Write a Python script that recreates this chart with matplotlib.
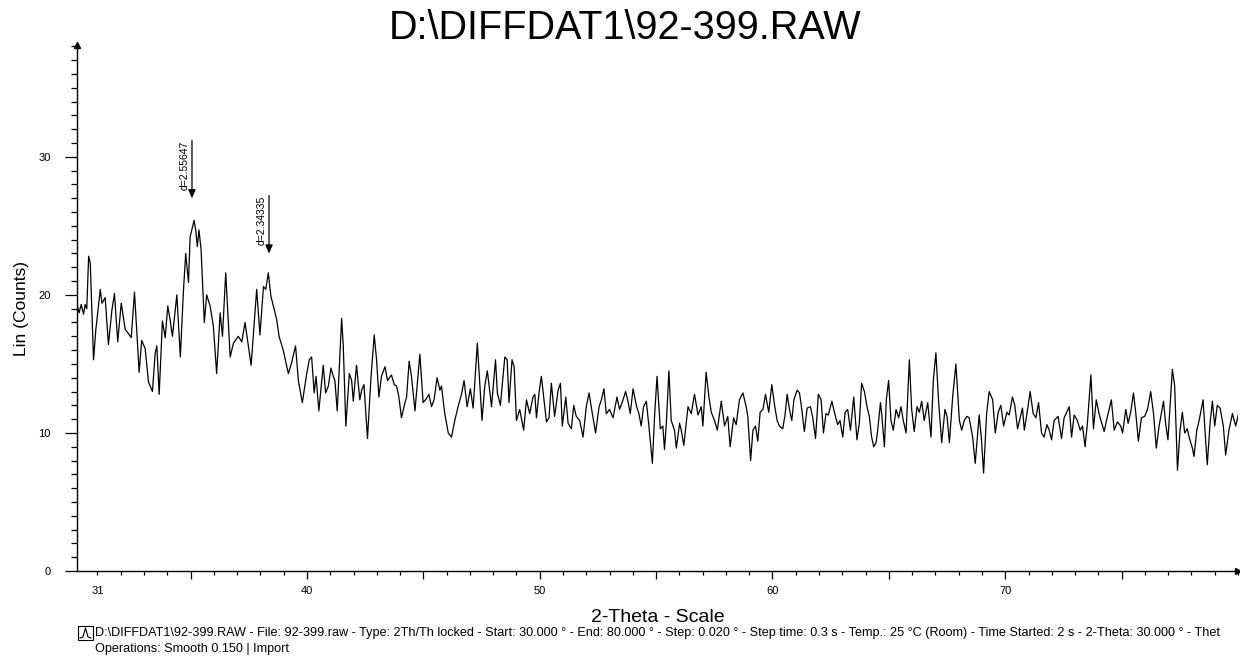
import matplotlib
matplotlib.use("Agg")
import matplotlib.pyplot as plt
from matplotlib.ticker import FixedLocator, MultipleLocator, NullFormatter
from matplotlib.patches import Rectangle
from matplotlib.lines import Line2D

plt.rcParams["font.family"] = ["Liberation Sans", "DejaVu Sans"]

title = r"D:\DIFFDAT1\92-399.RAW"
footer_1 = (r"D:\DIFFDAT1\92-399.RAW - File: 92-399.raw - Type: 2Th/Th locked - Start: 30.000 ° - "
            "End: 80.000 ° - Step: 0.020 ° - Step time: 0.3 s - Temp.: 25 °C (Room) - "
            "Time Started: 2 s - 2-Theta: 30.000 ° - Thet")
footer_2 = "Operations: Smooth 0.150 | Import"

# values (2-theta in degrees, intensity in counts)
two_theta = [
    30.12, 30.14, 30.21, 30.30, 30.40, 30.47, 30.54, 30.62, 30.69, 30.83,
    30.93, 31.12, 31.19, 31.33, 31.47, 31.62, 31.73, 31.87, 32.02, 32.19,
    32.33, 32.45, 32.59, 32.79, 32.90, 33.05, 33.19, 33.36, 33.48, 33.55,
    33.65, 33.79, 33.91, 34.02, 34.12, 34.22, 34.41, 34.56, 34.69, 34.79,
    34.91, 34.98, 35.15, 35.22, 35.29, 35.36, 35.45, 35.59, 35.69, 35.84,
    35.98, 36.12, 36.27, 36.37, 36.51, 36.70, 36.84, 37.05, 37.20, 37.34,
    37.60, 37.84, 37.98, 38.13, 38.23, 38.34, 38.45, 38.60, 38.70, 38.80,
    38.98, 39.20, 39.34, 39.51, 39.63, 39.80, 39.99, 40.10,
    40.20, 40.31, 40.39, 40.51, 40.70, 40.80, 40.92, 41.03, 41.13, 41.20,
    41.30, 41.49, 41.56, 41.67, 41.82, 41.92, 41.99, 42.13, 42.27, 42.35,
    42.45, 42.60, 42.75, 42.89, 42.99, 43.09, 43.20, 43.35, 43.46, 43.63,
    43.75, 43.85, 43.95, 44.06, 44.21, 44.28, 44.39, 44.49, 44.64, 44.85,
    44.99, 45.14, 45.24, 45.35, 45.46, 45.59, 45.71, 45.78, 45.92, 46.07,
    46.21, 46.35, 46.49, 46.64, 46.75, 46.88, 47.02, 47.14, 47.32, 47.52,
    47.64, 47.75, 47.93, 48.10, 48.18, 48.31, 48.50, 48.60, 48.68, 48.81,
    48.90, 49.00, 49.14, 49.31, 49.43, 49.57, 49.71, 49.79, 49.86, 49.97,
    50.07, 50.17, 50.29, 50.40, 50.50, 50.64, 50.79, 50.89, 50.97, 51.12,
    51.22, 51.36, 51.46, 51.57, 51.72, 51.86, 52.00, 52.12, 52.26, 52.40,
    52.55, 52.65, 52.76, 52.86, 53.00, 53.15, 53.32, 53.43, 53.58, 53.69,
    53.79, 53.89, 54.01, 54.15, 54.26, 54.36, 54.46, 54.58, 54.69, 54.84,
    54.94, 55.04, 55.18, 55.29, 55.36, 55.44, 55.55, 55.65, 55.79, 55.87,
    56.01, 56.08, 56.19, 56.37, 56.51, 56.65, 56.80, 56.94, 57.01, 57.15,
    57.27, 57.37, 57.51, 57.63, 57.80, 57.94, 58.08, 58.18, 58.33, 58.44,
    58.58, 58.73, 58.87, 58.94, 59.06, 59.16, 59.27, 59.37, 59.47, 59.59,
    59.70, 59.84, 59.97,
    60.09, 60.20, 60.30, 60.44, 60.54, 60.63, 60.73, 60.83, 60.92, 61.06,
    61.16, 61.26, 61.37, 61.49, 61.63, 61.73, 61.85, 61.97, 62.09, 62.19,
    62.30, 62.40, 62.55, 62.66, 62.80, 62.90, 63.02, 63.12, 63.23, 63.35,
    63.49, 63.63, 63.73, 63.83, 63.95, 64.06, 64.16, 64.26, 64.35, 64.45,
    64.52, 64.64, 64.69, 64.81, 64.89, 64.99, 65.09, 65.19, 65.31, 65.42,
    65.52, 65.62, 65.74, 65.88, 65.98, 66.09, 66.21, 66.31, 66.41, 66.52,
    66.67, 66.81, 66.91, 67.02, 67.14, 67.27, 67.41, 67.50, 67.60, 67.74,
    67.88, 68.03, 68.13, 68.24, 68.35, 68.45, 68.60, 68.71, 68.88, 68.98,
    69.07, 69.20, 69.31, 69.46, 69.57, 69.70, 69.81, 69.93,
    70.07, 70.17, 70.31, 70.41, 70.53, 70.64, 70.74, 70.82, 70.96, 71.07,
    71.20, 71.32, 71.43, 71.56, 71.67, 71.79, 71.89, 71.99, 72.10, 72.27,
    72.42, 72.53, 72.75, 72.85, 72.96, 73.10, 73.22, 73.32, 73.43, 73.53,
    73.68, 73.79, 73.91, 74.03, 74.15, 74.25, 74.39, 74.56, 74.68, 74.82,
    74.96, 75.04, 75.18, 75.28, 75.39, 75.51, 75.61, 75.72, 75.85, 75.99,
    76.11, 76.25, 76.37, 76.49, 76.61, 76.80, 76.89, 76.99, 77.18, 77.28,
    77.40, 77.51, 77.61, 77.71, 77.82, 77.90, 78.04, 78.11, 78.23, 78.33,
    78.50, 78.58, 78.68, 78.80, 78.90, 79.00, 79.11, 79.23, 79.37, 79.47,
    79.61, 79.76, 79.90, 80.04,
]
counts = [
    17.4, 19.2, 18.7, 19.3, 18.6, 19.3, 19.0, 22.8, 22.3, 15.3,
    17.5, 20.4, 19.4, 19.8, 16.4, 18.9, 20.1, 16.6, 19.4, 17.5,
    17.2, 16.9, 20.2, 14.4, 16.7, 16.1, 13.7, 13.0, 15.8, 16.3,
    12.8, 18.1, 16.9, 19.2, 18.2, 17.0, 20.0, 15.5, 20.2, 23.0,
    20.9, 24.2, 25.4, 24.7, 23.5, 24.7, 23.3, 18.0, 20.0, 19.2,
    17.7, 14.3, 18.7, 17.0, 21.6, 15.5, 16.5, 17.0, 16.6, 18.0,
    14.9, 20.4, 17.1, 20.6, 20.4, 21.6, 19.9, 18.9, 18.2, 17.0,
    16.0, 14.3, 15.1, 16.3, 13.8, 12.2, 14.3, 15.3,
    15.5, 12.9, 14.1, 11.6, 14.9, 12.9, 13.4, 14.7, 14.1, 13.8,
    11.6, 18.3, 16.3, 10.5, 14.3, 13.8, 12.3, 14.9, 12.4, 13.1,
    13.5, 9.6, 14.0, 17.1, 15.3, 12.6, 14.1, 14.8, 13.8, 14.2,
    13.5, 13.4, 12.6, 11.1, 12.2, 12.6, 15.2, 14.1, 11.6, 15.7,
    12.2, 12.5, 12.8, 11.9, 12.4, 14.0, 13.1, 13.4, 11.4, 10.0,
    9.7, 10.9, 11.9, 12.8, 13.8, 11.9, 13.2, 11.8, 16.5, 10.9,
    13.4, 14.5, 11.9, 15.3, 12.9, 12.0, 15.5, 15.3, 12.2, 15.3,
    14.8, 10.9, 11.7, 10.2, 12.4, 11.4, 12.6, 12.8, 11.1, 12.9,
    14.1, 12.6, 10.8, 11.1, 13.6, 11.2, 13.1, 13.6, 10.5, 12.6,
    10.7, 10.3, 12.0, 11.2, 10.9, 9.7, 11.9, 12.9, 11.4, 10.0,
    11.9, 12.4, 13.2, 11.4, 11.7, 11.1, 12.6, 11.7, 12.4, 13.0,
    12.3, 11.4, 13.2, 12.0, 11.4, 10.5, 11.9, 12.3, 10.5, 7.8,
    11.4, 14.1, 10.3, 10.5, 8.8, 10.7, 14.5, 10.9, 10.2, 8.9,
    10.7, 10.2, 9.1, 11.9, 11.4, 12.8, 11.3, 11.9, 10.5, 14.4,
    12.6, 11.5, 10.9, 10.2, 12.3, 10.5, 11.2, 9.0, 11.1, 10.6,
    12.4, 12.9, 11.9, 11.2, 8.0, 10.2, 10.5, 9.4, 11.5, 11.7,
    12.8, 11.5, 13.5,
    12.0, 10.9, 10.5, 10.3, 11.3, 12.8, 11.7, 10.9, 12.4, 13.1,
    12.9, 11.7, 10.1, 11.8, 11.9, 11.1, 9.6, 12.8, 12.4, 10.0,
    11.4, 11.3, 12.3, 11.5, 10.6, 10.9, 9.7, 11.5, 11.7, 10.2,
    12.6, 9.5, 10.7, 13.6, 13.0, 11.9, 11.2, 9.7, 9.0, 9.3,
    10.2, 12.2, 11.4, 9.0, 12.4, 13.8, 10.9, 10.2, 11.7, 11.1,
    11.9, 10.9, 10.0, 15.3, 11.7, 10.1, 11.9, 11.5, 12.3, 10.9,
    12.2, 9.7, 13.8, 15.8, 12.2, 9.3, 11.7, 11.2, 9.3, 12.6,
    15.0, 10.9, 10.2, 10.9, 11.2, 11.1, 9.7, 7.8, 11.3, 9.5,
    7.1, 11.4, 13.0, 12.4, 10.0, 11.5, 12.0, 10.5,
    11.5, 11.3, 12.6, 12.0, 10.3, 11.1, 11.8, 10.2, 11.7, 13.0,
    11.4, 11.1, 12.2, 10.0, 9.7, 10.6, 10.2, 9.5, 10.9, 11.2,
    9.6, 11.1, 11.9, 9.7, 11.3, 10.9, 10.2, 10.5, 9.0, 10.7,
    14.2, 10.3, 12.4, 11.4, 10.7, 10.1, 11.2, 12.4, 10.2, 10.8,
    10.5, 10.0, 11.7, 10.7, 11.5, 12.9, 11.4, 9.4, 11.1, 11.2,
    11.7, 13.0, 11.4, 8.9, 10.5, 12.3, 10.7, 9.5, 14.6, 13.4,
    7.3, 10.2, 11.5, 10.0, 10.3, 9.7, 8.9, 8.3, 10.2, 10.9,
    12.4, 10.2, 7.7, 10.7, 12.3, 10.5, 12.0, 11.8, 10.5, 8.4,
    10.2, 11.4, 10.5, 11.5,
]

peak_pos = [35.06, 38.37]
peak_labels = ["d=2.55647", "d=2.34335"]
peak_top = [31.2, 27.2]
peak_tip = [27.0, 23.0]

x_labels = [31, 40, 50, 60, 70]

fig = plt.figure(figsize=(12.4, 6.57), dpi=100)
ax = fig.add_axes([77 / 1240, 86 / 657, 1161 / 1240, 526 / 657])

ax.plot(two_theta, counts, color="black", lw=0.9)

ax.set_xlim(30.12, 80.0)
ax.set_ylim(0, 38.1)

for s in ["top", "right"]:
    ax.spines[s].set_visible(False)
for s in ["left", "bottom"]:
    ax.spines[s].set_linewidth(1.0)

# axis arrowheads
ax.plot(0, 1, marker="^", color="black", ms=4, transform=ax.transAxes, clip_on=False)
ax.plot(1, 0, marker=">", color="black", ms=4, transform=ax.transAxes, clip_on=False)

# y ticks
ax.yaxis.set_major_locator(MultipleLocator(10))
ax.yaxis.set_minor_locator(MultipleLocator(1))
ax.tick_params(axis="y", which="major", direction="out", length=9, width=0.9,
               labelsize=8, pad=10, colors="black")
ax.tick_params(axis="y", which="minor", direction="out", length=4.5, width=0.9)

# x ticks: long every 5 deg, short every 1 deg, labels at 31, 40..70
major_x = [31, 35, 40, 45, 50, 55, 60, 65, 70, 75]
ax.xaxis.set_major_locator(FixedLocator(major_x))
ax.set_xticklabels([str(v) if v in x_labels else "" for v in major_x])
ax.xaxis.set_minor_locator(MultipleLocator(1))
ax.xaxis.set_minor_formatter(NullFormatter())
ax.tick_params(axis="x", which="major", direction="out", length=6, width=0.9,
               labelsize=8, pad=5)
ax.tick_params(axis="x", which="minor", direction="out", length=3, width=0.9)
ax.xaxis.get_major_ticks()[0].tick1line.set_markersize(3)

ax.set_ylabel("Lin (Counts)", fontsize=12.5, labelpad=7)
ax.set_xlabel("2-Theta - Scale", fontsize=14, labelpad=9)

# peak markers
for xp, lab, top, tip in zip(peak_pos, peak_labels, peak_top, peak_tip):
    ax.annotate("", xy=(xp, tip), xytext=(xp, top),
                arrowprops=dict(arrowstyle="-|>,head_length=0.5,head_width=0.22",
                                color="black", lw=0.9, shrinkA=0, shrinkB=0))
    ax.text(xp - 0.12, top, lab, rotation=90, ha="right", va="top", fontsize=7.5)

fig.text(0.504, 0.957, title, ha="center", va="center", fontsize=28.5)

# footer with small scan icon
fig.add_artist(Rectangle((78 / 1240, 1 - 640 / 657), 15 / 1240, 14 / 657,
                         transform=fig.transFigure, fill=False, lw=0.8, color="black"))
fig.add_artist(Line2D([80 / 1240, 83 / 1240, 85.5 / 1240, 88 / 1240, 91 / 1240],
                      [1 - 638 / 657, 1 - 637 / 657, 1 - 628 / 657, 1 - 637 / 657, 1 - 638 / 657],
                      transform=fig.transFigure, lw=0.8, color="black"))
fig.text(95 / 1240, 1 - 633 / 657, footer_1, ha="left", va="center", fontsize=9.1)
fig.text(95 / 1240, 1 - 649 / 657, footer_2, ha="left", va="center", fontsize=9.1)

fig.savefig("out.png", dpi=100)
